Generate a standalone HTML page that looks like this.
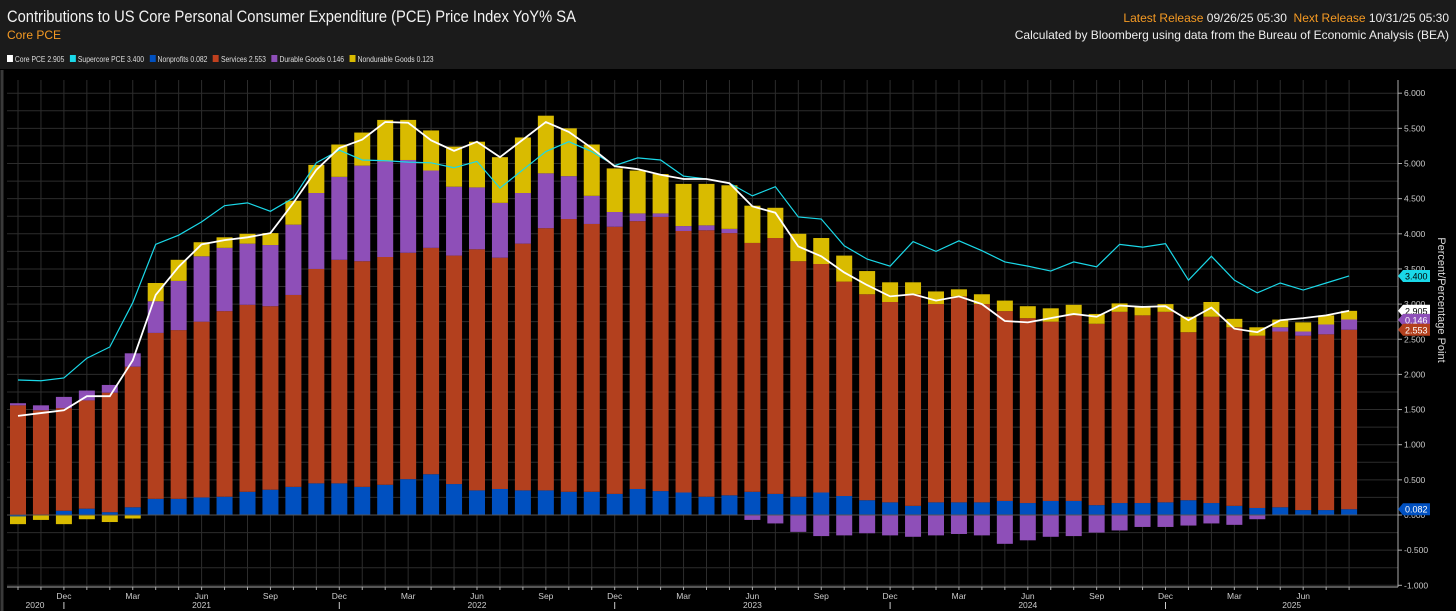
<!DOCTYPE html>
<html><head><meta charset="utf-8">
<style>
html,body{margin:0;padding:0;background:#000;width:1456px;height:611px;overflow:hidden;font-family:"Liberation Sans",sans-serif;}
#hdr{position:absolute;left:0;top:0;width:1456px;height:69px;background:#1b1b1b;}
.t{position:absolute;white-space:nowrap;}
svg{position:absolute;left:0;top:0;}
</style></head><body>
<div id="hdr">
  <div class="t" style="left:7px;top:7px;font-size:17px;color:#f2f2f2;transform:scaleX(0.865);transform-origin:0 0;">Contributions to US Core Personal Consumer Expenditure (PCE) Price Index YoY% SA</div>
  <div class="t" style="left:7px;top:28px;font-size:12px;color:#f59a23;">Core PCE</div>
  <div class="t" style="right:7px;top:11px;font-size:12px;color:#f59a23;">Latest Release <span style="color:#eee">09/26/25 05:30</span>&nbsp;&nbsp;Next Release <span style="color:#eee">10/31/25 05:30</span></div>
  <div class="t" style="right:7px;top:28px;font-size:12px;color:#eee;">Calculated by Bloomberg using data from the Bureau of Economic Analysis (BEA)</div>
  <div class="t" style="left:7px;top:55px;font-size:8px;color:#ddd;transform:scaleX(0.85);transform-origin:0 0;">
    <span><span style="display:inline-block;width:7px;height:7px;background:#fff;"></span> Core PCE 2.905</span>&nbsp;&nbsp;
    <span><span style="display:inline-block;width:7px;height:7px;background:#1ad8e8;"></span> Supercore PCE 3.400</span>&nbsp;&nbsp;
    <span><span style="display:inline-block;width:7px;height:7px;background:#0050c0;"></span> Nonprofits 0.082</span>&nbsp;&nbsp;
    <span><span style="display:inline-block;width:7px;height:7px;background:#c0401e;"></span> Services 2.553</span>&nbsp;&nbsp;
    <span><span style="display:inline-block;width:7px;height:7px;background:#8e4fb8;"></span> Durable Goods 0.146</span>&nbsp;&nbsp;
    <span><span style="display:inline-block;width:7px;height:7px;background:#d9bb00;"></span> Nondurable Goods 0.123</span>
  </div>
</div>
<svg id="chart" width="1456" height="611"></svg>
<script>
const months = ["Oct","Nov","Dec","Jan","Feb","Mar","Apr","May","Jun","Jul","Aug","Sep"];
const nonprofits = [-0.02,0.0,0.06,0.09,0.04,0.11,0.23,0.23,0.25,0.26,0.33,0.36,0.40,0.45,0.45,0.40,0.43,0.51,0.58,0.44,0.35,0.37,0.35,0.35,0.33,0.33,0.30,0.37,0.34,0.32,0.26,0.28,0.33,0.30,0.26,0.32,0.27,0.21,0.18,0.13,0.18,0.18,0.18,0.20,0.17,0.20,0.20,0.14,0.17,0.17,0.18,0.21,0.17,0.13,0.10,0.11,0.07,0.07,0.082];
const services = [1.56,1.49,1.46,1.54,1.70,2.00,2.36,2.40,2.50,2.64,2.66,2.61,2.73,3.05,3.18,3.21,3.24,3.22,3.22,3.25,3.43,3.29,3.51,3.73,3.88,3.81,3.80,3.81,3.90,3.72,3.79,3.73,3.54,3.64,3.35,3.25,3.05,2.93,2.85,3.01,2.82,2.93,2.82,2.70,2.63,2.55,2.64,2.58,2.72,2.67,2.71,2.39,2.65,2.54,2.45,2.50,2.48,2.50,2.553];
const durable = [0.03,0.07,0.16,0.14,0.11,0.19,0.45,0.70,0.93,0.90,0.87,0.87,1.00,1.08,1.18,1.36,1.36,1.32,1.10,0.98,0.88,0.78,0.72,0.78,0.61,0.40,0.21,0.11,0.05,0.07,0.07,0.06,-0.07,-0.12,-0.24,-0.30,-0.29,-0.26,-0.29,-0.31,-0.29,-0.27,-0.29,-0.41,-0.36,-0.31,-0.30,-0.25,-0.22,-0.17,-0.17,-0.15,-0.12,-0.14,-0.06,0.06,0.06,0.14,0.146];
const nondurable = [-0.11,-0.07,-0.13,-0.06,-0.10,-0.05,0.26,0.30,0.20,0.15,0.14,0.17,0.34,0.40,0.46,0.47,0.59,0.57,0.57,0.57,0.65,0.65,0.79,0.82,0.68,0.73,0.62,0.61,0.56,0.60,0.59,0.62,0.53,0.43,0.39,0.37,0.37,0.33,0.28,0.17,0.18,0.10,0.14,0.15,0.17,0.19,0.15,0.14,0.12,0.12,0.11,0.22,0.21,0.12,0.12,0.11,0.13,0.13,0.123];
const corePCE = [1.41,1.45,1.49,1.69,1.69,2.20,3.13,3.53,3.85,3.91,3.95,4.01,4.44,4.91,5.22,5.34,5.59,5.58,5.33,5.18,5.31,5.09,5.34,5.59,5.45,5.22,4.96,4.92,4.84,4.78,4.78,4.72,4.39,4.30,3.82,3.68,3.45,3.27,3.11,3.14,3.05,3.11,3.00,2.76,2.74,2.80,2.86,2.82,2.98,2.96,2.97,2.77,2.95,2.65,2.60,2.77,2.80,2.84,2.905];
const supercorePCE = [1.92,1.91,1.95,2.23,2.39,3.02,3.85,3.98,4.17,4.40,4.44,4.32,4.51,5.01,5.19,5.05,5.04,5.02,5.01,4.94,5.03,4.65,4.91,5.17,5.31,5.17,4.97,5.08,5.05,4.82,4.78,4.72,4.54,4.67,4.24,4.21,3.83,3.64,3.54,3.89,3.75,3.90,3.76,3.60,3.54,3.47,3.60,3.53,3.85,3.81,3.86,3.34,3.68,3.34,3.16,3.30,3.20,3.30,3.40];
const yTicks = [-1,-0.5,0,0.5,1,1.5,2,2.5,3,3.5,4,4.5,5,5.5,6];
const yearLabels = [["2020",0],["2021",8],["2022",20],["2023",32],["2024",44],["2025",55.5]];

const NS="http://www.w3.org/2000/svg";
const svg=document.getElementById('chart');
const X0=18, DX=22.95, Y0=515, KY=70.3, PL=7, PR=1398, PT=70, PB=587;
function xs(i){return X0+i*DX;}
function ys(v){return Y0-v*KY;}
function mk(tag,attrs,parent){const e=document.createElementNS(NS,tag);for(const k in attrs)e.setAttribute(k,attrs[k]);(parent||svg).appendChild(e);return e;}

for(let v=-1;v<=6.001;v+=0.25){
  const g=mk('line',{x1:PL,x2:PR,y1:ys(v),y2:ys(v),stroke:'#2c2c2c','stroke-width':1});
  
  
}
for(let i=0;i<nonprofits.length;i++){
  const g=mk('line',{x1:xs(i),x2:xs(i),y1:PT+10,y2:PB,stroke:'#2c2c2c','stroke-width':1});
  
  
}
mk('line',{x1:2,x2:2,y1:PT,y2:611,stroke:'#3a3a3a','stroke-width':3});

const series=[[nonprofits,'#0050c0','nonprofits'],[services,'#b3401e','services'],[durable,'#8e4fb8','durable-goods'],[nondurable,'#d9bb00','nondurable-goods']];
for(let i=0;i<nonprofits.length;i++){
  let pos=0,neg=0;
  for(const [arr,col,nm] of series){
    const v=arr[i];let a,b;
    if(v>=0){a=pos;b=pos+v;pos=b;}else{a=neg;b=neg+v;neg=b;}
    const y1=ys(Math.max(a,b)),y2=ys(Math.min(a,b));
    const r=mk('rect',{x:xs(i)-8,y:y1,width:16,height:Math.max(0,y2-y1),fill:col});
    
    
  }
}
mk('line',{x1:PL,x2:PR,y1:ys(0),y2:ys(0),stroke:'#555','stroke-width':1});

function line(arr,col,w,nm){
  const p=mk('polyline',{points:arr.map((v,i)=>xs(i)+','+ys(v)).join(' '),fill:'none',stroke:col,'stroke-width':w});
  
  
}
line(supercorePCE,'#1ad8e8',1.2,'line-supercore-pce');
line(corePCE,'#ffffff',1.8,'line-core-pce');

mk('line',{x1:PR,x2:PR,y1:PT+10,y2:PB,stroke:'#aaa','stroke-width':1});
mk('line',{x1:PL,x2:PR,y1:PB,y2:PB,stroke:'#aaa','stroke-width':1});
for(const v of yTicks){
  mk('line',{x1:PR,x2:PR+4,y1:ys(v),y2:ys(v),stroke:'#aaa'});
  const t=mk('text',{x:PR+6,y:ys(v)+3,fill:'#ccc','font-size':8.5,'font-family':'Liberation Sans, sans-serif'});
  t.textContent=v.toFixed(3);
  
  
}
for(let i=0;i<nonprofits.length;i++){
  mk('line',{x1:xs(i),x2:xs(i),y1:PB,y2:PB+3,stroke:'#aaa'});
  const m=months[i%12];
  if(m==='Dec'||m==='Mar'||m==='Jun'||m==='Sep'){
    const t=mk('text',{x:xs(i),y:PB+12,fill:'#ccc','font-size':8.5,'text-anchor':'middle','font-family':'Liberation Sans, sans-serif'});
    t.textContent=m;
    
    
    if(m==='Dec') mk('line',{x1:xs(i),x2:xs(i),y1:PB+15,y2:PB+22,stroke:'#ccc'});
  }
}
for(const [lab,idx] of yearLabels){
  const t=mk('text',{x:idx===0?35:xs(idx),y:PB+21,fill:'#ccc','font-size':8.5,'text-anchor':'middle','font-family':'Liberation Sans, sans-serif'});
  t.textContent=lab;
  
  
}
const at=mk('text',{x:1438,y:300,fill:'#ddd','font-size':11,'text-anchor':'middle','font-family':'Liberation Sans, sans-serif',transform:'rotate(90 1438 300)'});
at.textContent='Percent/Percentage Point';



const n=nonprofits.length-1;
const tags=[[supercorePCE[n],'#1ad8e8','#000','tag-supercore'],[corePCE[n],'#fff','#000','tag-core'],[corePCE[n]-0.13,'#8e4fb8','#fff','tag-durable',durable[n]],[nonprofits[n]+services[n],'#b3401e','#fff','tag-services',services[n]],[nonprofits[n],'#0050c0','#fff','tag-nonprofits']];
for(const t of tags){
  const y=ys(t[0]);
  const g=mk('polygon',{points:`1398,${y} 1403,${y-6} 1430,${y-6} 1430,${y+6} 1403,${y+6}`,fill:t[1]});
  
  
  const tx=mk('text',{x:1405,y:y+3.5,fill:t[2],'font-size':9,'font-family':'Liberation Sans, sans-serif'});
  tx.textContent=(t[4]!==undefined?t[4]:t[0]).toFixed(3);
  
  
}
</script>
</body></html>
